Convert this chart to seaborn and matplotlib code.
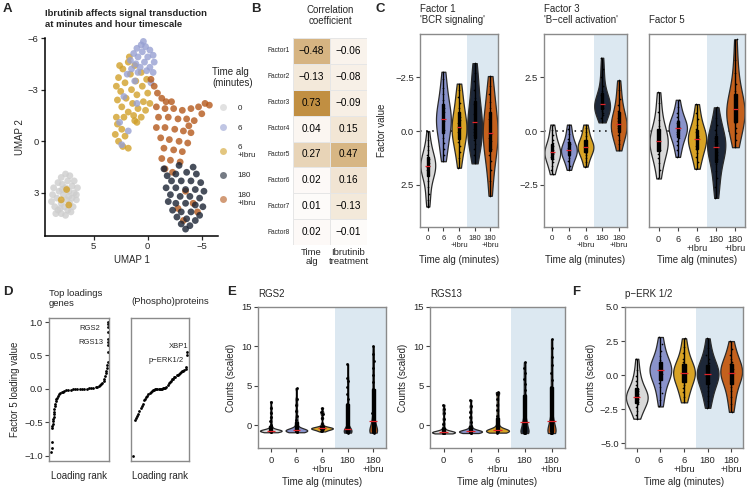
import numpy as np
import pandas as pd
import matplotlib
matplotlib.use("Agg")
import matplotlib.pyplot as plt
import seaborn as sns
from matplotlib.colors import LinearSegmentedColormap
from matplotlib.lines import Line2D

sns.set_theme(style="ticks")
plt.rcParams['font.family'] = ['Liberation Sans', 'DejaVu Sans']
plt.rcParams['axes.unicode_minus'] = True

# ---------------- data ----------------
groups = ["0", "6", "6\n+Ibru", "180", "180\n+Ibru"]
umap_colors = ["#cdcdcd", "#97a0d2", "#d1a02a", "#1a2333", "#b5591c"]
violin_colors = ["#d9d9d9", "#8a93cb", "#d8a325", "#1d2738", "#c4611d"]
bg_blue = "#dce8f1"

umap_0 = [(7.6,1.9),(7.2,2.0),(8.0,2.1),(7.4,2.3),(6.8,2.3),(8.3,2.4),(7.9,2.5),(7.0,2.6),(8.7,2.7),
          (7.6,2.7),(6.5,2.7),(8.2,2.9),(7.3,2.9),(6.8,3.0),(8.8,3.1),(7.8,3.1),(7.0,3.3),(8.4,3.3),
          (7.5,3.4),(6.6,3.4),(8.9,3.5),(8.0,3.6),(7.2,3.6),(8.6,3.8),(7.7,3.8),(6.9,3.8),(8.3,4.0),
          (7.4,4.0),(8.0,4.2),(7.6,4.3),(8.5,4.2),(7.1,4.1),(7.9,2.8),(7.3,3.2),(8.1,3.9),(6.6,3.1)]
umap_6 = [(0.6,-5.6),(0.2,-5.5),(1.0,-5.4),(-0.2,-5.3),(0.5,-5.2),(1.3,-5.1),(-0.5,-5.0),(0.0,-4.9),
          (0.9,-4.9),(1.6,-4.7),(-0.6,-4.6),(0.3,-4.6),(1.1,-4.5),(-0.2,-4.3),(0.7,-4.3),(1.5,-4.2),
          (0.1,-4.1),(-0.5,-4.0),(1.9,-3.9),(0.9,-4.0),(2.2,-2.6),(1.0,-2.2),(2.6,-1.1),(1.8,-0.6),
          (2.4,0.2),(-0.3,-3.4),(0.4,-5.8),(1.2,-3.5)]
umap_6ibru = [(1.8,-4.6),(1.2,-4.4),(2.3,-4.2),(0.6,-4.0),(1.6,-3.9),(2.7,-3.7),(0.1,-3.6),(1.1,-3.5),
              (2.1,-3.4),(2.9,-3.2),(0.5,-3.2),(1.5,-3.0),(2.5,-2.9),(0.0,-2.8),(1.0,-2.7),(2.0,-2.5),
              (2.8,-2.4),(0.4,-2.3),(1.4,-2.2),(2.4,-2.0),(0.9,-1.9),(1.8,-1.7),(0.2,-1.8),(1.3,-1.5),
              (2.2,-1.4),(0.6,-1.4),(1.0,-1.1),(2.8,-1.0),(2.4,-0.7),(3.0,-0.4),(2.1,-0.3),(2.7,0.0),
              (2.3,0.3),(1.8,0.4),(2.9,-1.4),(1.7,-4.9),(2.6,-4.4),(-0.2,-2.2),(1.2,-1.2),
              (7.5,2.8),(8.0,3.4),(7.3,3.7)]
umap_180 = [(-1.8,2.0),(-2.6,1.9),(-3.6,1.8),(-4.5,1.9),(-2.2,2.3),(-3.1,2.3),(-4.0,2.3),(-4.9,2.4),
            (-1.7,2.7),(-2.6,2.7),(-3.5,2.8),(-4.4,2.8),(-5.2,2.9),(-2.1,3.1),(-3.0,3.2),(-3.9,3.2),
            (-4.8,3.3),(-1.9,3.5),(-2.6,3.6),(-3.5,3.6),(-4.4,3.7),(-5.1,3.8),(-2.3,4.0),(-3.1,4.1),
            (-4.0,4.1),(-4.8,4.3),(-2.7,4.4),(-3.6,4.5),(-4.4,4.6),(-3.1,4.8),(-3.9,4.9),(-3.5,5.1),
            (-1.5,1.6),(-2.9,1.4),(-4.2,1.5)]
umap_180ibru = [(-0.3,-3.6),(-0.6,-3.2),(-0.9,-2.8),(-1.3,-2.5),(-1.7,-2.3),(-0.8,-2.0),(-1.6,-1.9),
                (-2.4,-1.9),(-3.2,-1.8),(-4.0,-1.9),(-4.7,-2.0),(-5.3,-2.2),(-5.7,-2.1),(-1.0,-1.4),
                (-1.9,-1.4),(-2.8,-1.3),(-3.6,-1.3),(-4.3,-1.2),(-0.8,-0.8),(-1.6,-0.8),(-2.5,-0.7),
                (-3.3,-0.6),(-4.0,-0.5),(-1.2,-0.2),(-2.0,-0.1),(-2.9,0.0),(-3.7,0.1),(-1.5,0.4),
                (-2.4,0.5),(-3.2,0.6),(-1.3,1.0),(-2.1,1.1),(-3.0,1.2),(-1.6,1.6),(-2.3,1.8),
                (-3.8,-0.9),(-2.2,-2.3),(-3.5,2.9),(-4.2,3.6),(-2.8,3.9),(-4.6,4.1),(-3.3,4.6),(-5.0,-1.6)]

factors = ["Factor1", "Factor2", "Factor3", "Factor4", "Factor5", "Factor6", "Factor7", "Factor8"]
corr_time = [-0.48, -0.13, 0.73, 0.04, 0.27, 0.02, 0.01, 0.02]
corr_ibru = [-0.06, -0.08, -0.09, 0.15, 0.47, 0.16, -0.13, -0.01]

f1_vals = [
    [0.0, 0.4, 0.7, 0.9, 1.1, 1.2, 1.3, 1.4, 1.5, 1.55, 1.6, 1.65, 1.7, 1.8, 1.9, 2.0, 2.1, 2.3, 2.6, 2.9, 3.2, 3.5],
    [-2.75, -2.4, -2.0, -1.7, -1.45, -1.25, -1.05, -0.9, -0.75, -0.65, -0.55, -0.45, -0.35, -0.2, -0.05, 0.1, 0.3, 0.55, 0.85, 1.1, 1.4],
    [-2.2, -1.9, -1.6, -1.3, -1.05, -0.85, -0.65, -0.5, -0.35, -0.25, -0.15, -0.05, 0.05, 0.2, 0.35, 0.5, 0.7, 0.95, 1.25, 1.7],
    [-3.15, -2.7, -2.3, -1.9, -1.55, -1.25, -1.0, -0.8, -0.6, -0.4, -0.25, -0.1, 0.05, 0.2, 0.4, 0.6, 0.85, 1.1, 1.5],
    [-2.55, -2.1, -1.7, -1.35, -1.05, -0.8, -0.55, -0.35, -0.15, 0.0, 0.15, 0.3, 0.45, 0.65, 0.85, 1.1, 1.4, 1.8, 2.3, 3.0],
]
f3_vals = [
    [-2.0, -1.8, -1.6, -1.45, -1.3, -1.2, -1.1, -1.05, -1.0, -0.95, -0.9, -0.8, -0.7, -0.55, -0.4, -0.2, 0.05, 0.3],
    [-1.8, -1.6, -1.4, -1.25, -1.15, -1.05, -1.0, -0.95, -0.9, -0.85, -0.8, -0.72, -0.62, -0.5, -0.35, -0.15, 0.1, 0.3],
    [-1.65, -1.45, -1.25, -1.1, -1.0, -0.9, -0.85, -0.8, -0.75, -0.7, -0.65, -0.58, -0.5, -0.4, -0.25, -0.05, 0.15, 0.3],
    [0.4, 0.6, 0.75, 0.85, 0.95, 1.05, 1.1, 1.15, 1.2, 1.25, 1.3, 1.4, 1.5, 1.65, 1.85, 2.1, 2.5, 2.9, 3.4],
    [-0.9, -0.6, -0.4, -0.2, -0.05, 0.05, 0.15, 0.22, 0.3, 0.38, 0.48, 0.6, 0.75, 0.95, 1.2, 1.5, 1.9, 2.35],
]
f5_vals = [
    [-2.2, -1.8, -1.5, -1.25, -1.05, -0.9, -0.75, -0.65, -0.55, -0.5, -0.45, -0.35, -0.25, -0.1, 0.05, 0.25, 0.5, 0.9, 1.3, 1.8],
    [-1.2, -0.9, -0.65, -0.45, -0.3, -0.15, -0.05, 0.05, 0.12, 0.15, 0.2, 0.28, 0.38, 0.5, 0.65, 0.85, 1.1, 1.45],
    [-1.75, -1.45, -1.2, -1.0, -0.85, -0.7, -0.55, -0.45, -0.38, -0.32, -0.25, -0.15, -0.05, 0.1, 0.3, 0.55, 0.85, 1.25],
    [-3.1, -2.6, -2.2, -1.85, -1.55, -1.3, -1.1, -0.95, -0.8, -0.72, -0.65, -0.55, -0.45, -0.3, -0.15, 0.05, 0.3, 0.6, 1.1],
    [-0.75, -0.4, -0.1, 0.15, 0.35, 0.5, 0.65, 0.78, 0.9, 1.0, 1.1, 1.25, 1.4, 1.6, 1.85, 2.2, 2.7, 3.3, 4.25],
]

gene_rank = [0, 0.5, 1, 1.5, 2, 2.5, 3, 3.5, 4, 4.5, 5, 5.5, 6, 7, 8, 9, 10, 12, 14, 16, 18, 20, 23, 26,
             30, 34, 38, 42, 46, 50, 54, 58, 62, 66, 70, 74, 78, 81, 84, 86, 88, 90, 92, 93.5, 95, 96,
             97, 98, 98.5, 99, 99.3, 99.5, 99.6, 99.7, 99.8, 99.9, 99.95, 100]
gene_loading = [-0.95, -0.88, -0.79, -0.58, -0.55, -0.52, -0.48, -0.45, -0.42, -0.38, -0.34, -0.30, -0.26,
                -0.22, -0.18, -0.15, -0.13, -0.10, -0.08, -0.06, -0.05, -0.04, -0.03, -0.02, -0.015, -0.01,
                -0.007, -0.005, -0.003, -0.001, 0.0, 0.002, 0.004, 0.007, 0.01, 0.015, 0.02, 0.03, 0.04,
                0.05, 0.07, 0.09, 0.12, 0.15, 0.19, 0.23, 0.27, 0.31, 0.35, 0.40, 0.55, 0.65, 0.70, 0.75,
                0.85, 0.92, 0.97, 1.0]
prot_rank = [2, 6, 8, 10, 12, 14, 16, 18, 20, 22, 24, 26, 28, 30, 32, 34, 36, 38, 40, 42, 44, 46, 48, 50,
             52, 54, 56, 58, 60, 62, 64, 66, 68, 70, 72, 74, 76, 78, 80, 82, 84, 86, 88, 90, 92, 94, 96,
             97, 98, 99]
prot_loading = [-1.0, -0.47, -0.44, -0.40, -0.37, -0.33, -0.28, -0.25, -0.22, -0.17, -0.15, -0.12, -0.10,
                -0.08, -0.06, -0.04, -0.025, -0.015, -0.01, -0.005, -0.003, -0.002, 0.0, 0.0, 0.002, 0.004,
                0.006, 0.01, 0.015, 0.03, 0.05, 0.08, 0.10, 0.12, 0.14, 0.15, 0.17, 0.18, 0.20, 0.21, 0.22,
                0.24, 0.25, 0.26, 0.27, 0.28, 0.30, 0.32, 0.50, 0.55]

rgs2_vals = [
    [-0.9, -0.85, -0.8, -0.78, -0.75, -0.73, -0.72, -0.71, -0.7, -0.7, -0.69, -0.68, -0.66, -0.63, -0.6, -0.5, -0.3, 0.0, 0.5, 1.0, 1.6, 2.2, 3.0],
    [-0.9, -0.85, -0.8, -0.76, -0.73, -0.7, -0.68, -0.67, -0.66, -0.65, -0.64, -0.62, -0.6, -0.55, -0.45, -0.2, 0.2, 0.6, 1.1, 1.8, 2.6, 3.3, 4.7],
    [-0.8, -0.7, -0.62, -0.56, -0.5, -0.47, -0.44, -0.42, -0.4, -0.38, -0.36, -0.33, -0.3, -0.25, -0.15, 0.2, 0.9, 1.4, 1.7, 2.2],
    [-0.95, -0.9, -0.88, -0.85, -0.82, -0.8, -0.77, -0.74, -0.7, -0.65, -0.6, -0.58, -0.5, -0.3, 0.3, 0.9, 1.5, 2.1, 2.7, 3.3, 4.0, 4.8, 5.6, 6.0, 7.8],
    [-0.95, -0.9, -0.87, -0.84, -0.8, -0.76, -0.7, -0.6, -0.45, -0.2, 0.1, 0.3, 0.5, 0.9, 1.5, 2.2, 3.0, 3.8, 4.6, 5.5, 6.4, 7.3, 8.2, 9.0, 10.0],
]
rgs13_vals = [
    [-1.05, -1.0, -0.98, -0.96, -0.94, -0.92, -0.91, -0.9, -0.9, -0.89, -0.87, -0.85, -0.82, -0.75, -0.6, -0.3, 0.2, 0.8, 1.5, 2.0, 2.6],
    [-1.0, -0.95, -0.9, -0.87, -0.85, -0.83, -0.81, -0.8, -0.8, -0.79, -0.77, -0.74, -0.7, -0.6, -0.4, -0.1, 0.4, 1.0, 1.7, 2.4, 3.2],
    [-0.95, -0.9, -0.85, -0.8, -0.77, -0.74, -0.72, -0.71, -0.7, -0.69, -0.67, -0.64, -0.6, -0.5, -0.3, 0.1, 0.6, 1.2, 1.9, 2.6, 3.3, 4.0, 4.2],
    [-1.0, -0.97, -0.94, -0.9, -0.86, -0.8, -0.7, -0.55, -0.3, -0.05, 0.15, 0.3, 0.4, 0.8, 1.3, 1.9, 2.5, 3.1, 3.8, 4.5, 5.2, 5.9, 6.6, 7.3, 8.0],
    [-1.0, -0.97, -0.94, -0.9, -0.86, -0.8, -0.7, -0.55, -0.3, -0.05, 0.15, 0.3, 0.5, 0.9, 1.5, 2.2, 3.0, 3.9, 4.8, 5.7, 6.6, 7.6, 8.6, 9.8, 10.9],
]
perk_vals = [
    [-3.2, -2.9, -2.6, -2.35, -2.15, -2.0, -1.85, -1.75, -1.65, -1.6, -1.55, -1.45, -1.35, -1.2, -1.0, -0.75, -0.45, -0.1, 0.4, 1.2],
    [-2.3, -1.8, -1.3, -0.9, -0.55, -0.3, -0.05, 0.1, 0.22, 0.3, 0.38, 0.5, 0.6, 0.75, 0.9, 1.1, 1.4, 1.8, 2.3, 2.8],
    [-2.0, -1.6, -1.25, -0.95, -0.7, -0.45, -0.25, -0.1, 0.02, 0.1, 0.18, 0.3, 0.45, 0.6, 0.78, 0.95, 1.2, 1.6, 2.1, 2.7],
    [-2.4, -1.9, -1.5, -1.15, -0.85, -0.6, -0.4, -0.22, -0.08, 0.03, 0.1, 0.2, 0.35, 0.5, 0.68, 0.9, 1.15, 1.5, 2.0, 2.7],
    [-2.7, -2.1, -1.6, -1.2, -0.85, -0.55, -0.3, -0.1, 0.05, 0.12, 0.2, 0.32, 0.45, 0.6, 0.78, 0.98, 1.2, 1.5, 1.95, 2.5],
]

# ---------------- figure ----------------
W, H = 747, 492
fig = plt.figure(figsize=(W / 100, H / 100), dpi=100)

def add_ax(l, t, r, b):
    return fig.add_axes([l / W, 1 - b / H, (r - l) / W, (b - t) / H])

FS = 7
TICK = 6.8

def frame(ax, color="#8a8a8a"):
    for s in ax.spines.values():
        s.set_visible(True)
        s.set_color(color)
        s.set_linewidth(1.0)
    ax.tick_params(axis='both', length=3, width=0.8, color="#444444", labelsize=TICK, pad=1.5)

# ---- A: UMAP ----
axA = add_ax(45, 38, 218, 236)
rows = []
order_draw = [(groups[0], umap_0), (groups[2], umap_6ibru), (groups[1], umap_6),
              (groups[4], umap_180ibru), (groups[3], umap_180)]
for g, pts in order_draw:
    for x, y in pts:
        rows.append((g, x, y))
dfA = pd.DataFrame(rows, columns=["time", "u1", "u2"])
sns.scatterplot(data=dfA, x="u1", y="u2", hue="time", palette=dict(zip(groups, umap_colors)),
                s=24, alpha=0.8, linewidth=0, legend=False, ax=axA)
axA.set_xlim(9.5, -6.5)
axA.set_ylim(5.5, -6.0)
axA.set_xticks([5, 0, -5])
axA.set_yticks([-6, -3, 0, 3])
axA.set_xlabel("UMAP 1", fontsize=FS, labelpad=3)
axA.set_ylabel("UMAP 2", fontsize=FS, labelpad=2)
for s in ["top", "right"]:
    axA.spines[s].set_visible(False)
for s in ["left", "bottom"]:
    axA.spines[s].set_color("black")
    axA.spines[s].set_linewidth(1.1)
axA.tick_params(axis='both', length=3, width=0.9, labelsize=TICK, pad=1.5)
axA.set_title("Ibrutinib affects signal transduction\nat minutes and hour timescale",
              loc="left", fontsize=6.8, fontweight="bold", pad=8, x=0.0)
fig.text(212 / W, 1 - 67 / H, "Time alg\n(minutes)", fontsize=7, va="top", ha="left", linespacing=1.1)
handles = [Line2D([0], [0], marker='o', ls='', color=c, alpha=0.6, markersize=5, markeredgewidth=0)
           for c in umap_colors]
leg = fig.legend(handles, groups, loc='upper left', bbox_to_anchor=(219 / W, 1 - 104 / H),
                 frameon=False, fontsize=5.8, labelspacing=1.55, handletextpad=1.3,
                 borderaxespad=0, borderpad=0, handlelength=1.0)

# ---- B: heatmap ----
axB = add_ax(293, 38, 367, 245)
vals = np.array([corr_time, corr_ibru]).T
annot = np.array([[f"{v:.2f}".replace('-', '\u2212') for v in row] for row in vals])
cmap = LinearSegmentedColormap.from_list("gold", ["#fefcfb", "#c08c3e"])
sns.heatmap(np.abs(vals), annot=annot, fmt="", cmap=cmap, vmin=0, vmax=0.75, cbar=False,
            linewidths=0.7, linecolor="#e6e6e6", annot_kws=dict(fontsize=7.2, color="black"),
            xticklabels=["Time\nalg", "Ibrutinib\ntreatment"], yticklabels=factors, ax=axB)
axB.tick_params(axis='both', length=0, pad=2)
axB.tick_params(axis='x', labelsize=6.8, rotation=0)
axB.tick_params(axis='y', labelsize=4.8, rotation=0)
for lab in axB.get_xticklabels():
    lab.set_linespacing(1.0)
axB.set_title("Correlation\ncoefficient", fontsize=7, pad=10)

# ---- violin helper ----
def violin_panel(ax, data, widths, bw=1.0, strip_size=1.2, strip_jitter=0.06, xlabelsize=TICK):
    rows = []
    for g, vv in zip(groups, data):
        for v in vv:
            rows.append((g, v))
    df = pd.DataFrame(rows, columns=["time", "value"])
    for g, c, w in zip(groups, violin_colors, widths):
        sub = df[df["time"] == g]
        sns.violinplot(data=sub, x="time", y="value", order=groups, color=c, inner=None, cut=0,
                       density_norm="width", width=w, linewidth=0.9, linecolor="#2a2a2a",
                       bw_adjust=bw, saturation=1, ax=ax, zorder=2)
    sns.boxplot(data=df, x="time", y="value", order=groups, whis=(0, 100), width=0.13, color="black",
                linecolor="black", showcaps=False, fliersize=0, linewidth=1.0, saturation=1, ax=ax,
                medianprops=dict(color="black"), zorder=3)
    sns.stripplot(data=df, x="time", y="value", order=groups, color="black", size=strip_size,
                  jitter=strip_jitter, ax=ax, zorder=4)
    med = df.groupby("time")["value"].median().reindex(groups).values
    xs = np.arange(len(groups))
    ax.hlines(med, xs - 0.15, xs + 0.15, color="#e0252a", lw=0.9, zorder=6)
    ax.set_xlim(-0.5, 4.5)
    ax.axvspan(2.5, 4.5, color=bg_blue, lw=0, zorder=0)
    ax.set_xlabel("Time alg (minutes)", fontsize=FS, labelpad=2)
    ax.set_ylabel("")
    frame(ax)
    ax.tick_params(axis='x', labelsize=xlabelsize, pad=3)
    for lab in ax.get_xticklabels():
        lab.set_linespacing(1.0)

# ---- C ----
c_axes = [add_ax(420, 34, 498, 227), add_ax(544, 34, 627, 227), add_ax(649, 34, 745, 227)]
c_data = [f1_vals, f3_vals, f5_vals]
c_titles = ["Factor 1\n'BCR signaling'", "Factor 3\n'B\u2212cell activation'", "Factor 5"]
c_xsize = [5.5, 5.8, 6.6]
for i, (ax, d, t) in enumerate(zip(c_axes, c_data, c_titles)):
    ax.axhline(0, color="black", lw=1.1, ls=(0, (1, 3)), zorder=1)
    violin_panel(ax, d, [0.95] * 5, xlabelsize=c_xsize[i])
    ax.set_yticks([-2.5, 0, 2.5])
    if i == 0:
        ax.set_ylim(4.45, -4.5)
        ax.set_ylabel("Factor value", fontsize=FS, labelpad=6)
    else:
        ax.set_ylim(-4.45, 4.5)
    if i == 2:
        ax.set_yticks([])
    ax.xaxis.set_label_coords(0.5, -0.145)
    ax.set_title(t, loc="left", fontsize=7, pad=8, linespacing=1.1)

# ---- D ----
axD1 = add_ax(49, 318, 109, 461)
axD2 = add_ax(131, 318, 189, 461)
sns.scatterplot(x=gene_rank, y=gene_loading, color="black", s=4, linewidth=0, ax=axD1)
sns.scatterplot(x=prot_rank, y=prot_loading, color="black", s=4, linewidth=0, ax=axD2)
for ax in (axD1, axD2):
    frame(ax)
    ax.set_ylim(-1.08, 1.06)
    ax.set_xticks([])
    ax.set_xlabel("Loading rank", fontsize=FS, labelpad=7)
axD1.set_xlim(-4, 101.5)
axD2.set_xlim(-1, 102)
axD1.set_yticks([-1.0, -0.5, 0.0, 0.5, 1.0])
axD2.set_yticks([])
axD1.set_ylabel("Factor 5 loading value", fontsize=FS, labelpad=3)
axD1.set_title("Top loadings\ngenes", loc="left", fontsize=6.8, pad=9, linespacing=1.0)
axD2.set_title("(Phospho)proteins", loc="left", fontsize=6.8, pad=10)
axD1.text(86, 0.9, "RGS2", fontsize=5.5, ha="right", va="center")
axD1.text(92, 0.69, "RGS13", fontsize=5.5, ha="right", va="center")
axD2.text(83, 0.63, "XBP1", fontsize=5.5, ha="center", va="center")
axD2.text(93, 0.42, "p\u2212ERK1/2", fontsize=5.5, ha="right", va="center")

# ---- E ----
axE1 = add_ax(258, 307, 386, 448)
axE2 = add_ax(430, 307, 565, 448)
for ax, d, t in ((axE1, rgs2_vals, "RGS2"), (axE2, rgs13_vals, "RGS13")):
    violin_panel(ax, d, [0.85, 0.85, 0.85, 0.3, 0.3], bw=0.3, strip_size=2.0, strip_jitter=0.03)
    ax.set_ylim(-2.9, 15)
    ax.set_yticks([0, 5, 10, 15])
    ax.set_ylabel("Counts (scaled)", fontsize=FS, labelpad=4)
    ax.set_title(t, loc="left", fontsize=7, pad=7)

# ---- F ----
axF = add_ax(625, 307, 743, 448)
violin_panel(axF, perk_vals, [0.92] * 5)
axF.set_ylim(-5.35, 5.0)
axF.set_yticks([-5.0, -2.5, 0.0, 2.5, 5.0])
axF.set_ylabel("Counts (scaled)", fontsize=FS, labelpad=3)
axF.set_title("p\u2212ERK 1/2", loc="left", fontsize=7, pad=7)

# ---- panel letters ----
for lab, x, y in (("A", 3, 3), ("B", 251, 3), ("C", 375, 3), ("D", 3, 286), ("E", 227, 286), ("F", 572, 286)):
    fig.text(x / W, 1 - y / H, lab, fontsize=9.5, fontweight="bold", va="top", ha="left")

fig.savefig("out.png", dpi=100)
